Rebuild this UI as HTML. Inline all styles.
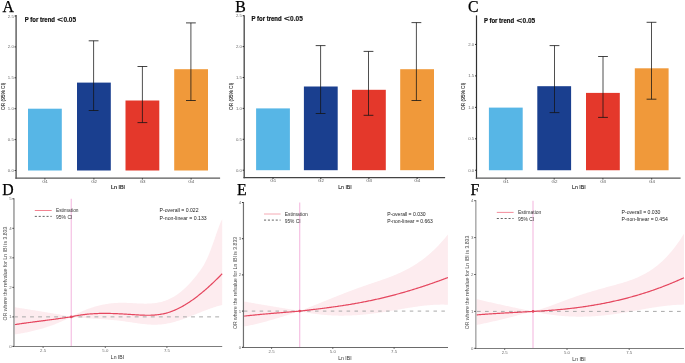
<!DOCTYPE html>
<html><head><meta charset="utf-8"><style>
html,body{margin:0;padding:0;background:#fff;overflow:hidden}
svg{display:block;will-change:transform}
</style></head><body>
<svg width="685" height="363" viewBox="0 0 685 363">
<rect width="685" height="363" fill="#fff"/>
<rect x="28" y="108.7" width="33.8" height="61.8" fill="#57B6E6"/>
<rect x="77" y="82.6" width="33.8" height="87.9" fill="#1A3F8F"/>
<rect x="125.5" y="100.5" width="33.8" height="70" fill="#E4382B"/>
<rect x="174.2" y="69.2" width="33.8" height="101.3" fill="#F0993A"/>
<line x1="93.6" y1="40.8" x2="93.6" y2="110.5" stroke="#141414" stroke-width="0.75" />
<line x1="88.7" y1="40.8" x2="98.5" y2="40.8" stroke="#141414" stroke-width="0.8" />
<line x1="88.7" y1="110.5" x2="98.5" y2="110.5" stroke="#141414" stroke-width="0.8" />
<line x1="142.4" y1="66.5" x2="142.4" y2="122.6" stroke="#141414" stroke-width="0.75" />
<line x1="137.5" y1="66.5" x2="147.3" y2="66.5" stroke="#141414" stroke-width="0.8" />
<line x1="137.5" y1="122.6" x2="147.3" y2="122.6" stroke="#141414" stroke-width="0.8" />
<line x1="190.9" y1="22.9" x2="190.9" y2="100.5" stroke="#141414" stroke-width="0.75" />
<line x1="186" y1="22.9" x2="195.8" y2="22.9" stroke="#141414" stroke-width="0.8" />
<line x1="186" y1="100.5" x2="195.8" y2="100.5" stroke="#141414" stroke-width="0.8" />
<line x1="16.1" y1="15" x2="16.1" y2="178.8" stroke="#585858" stroke-width="1.4" />
<line x1="15.4" y1="178.1" x2="220.1" y2="178.1" stroke="#585858" stroke-width="1.4" />
<line x1="14.6" y1="170.5" x2="15.9" y2="170.5" stroke="#1a1a1a" stroke-width="0.9" />
<text x="13.8" y="172.05" font-family="'Liberation Sans', sans-serif" font-size="4.3" fill="#6a6a6a" text-anchor="end" font-weight="normal" >0.0</text>
<line x1="14.6" y1="139.6" x2="15.9" y2="139.6" stroke="#1a1a1a" stroke-width="0.9" />
<text x="13.8" y="141.15" font-family="'Liberation Sans', sans-serif" font-size="4.3" fill="#6a6a6a" text-anchor="end" font-weight="normal" >0.5</text>
<line x1="14.6" y1="108.7" x2="15.9" y2="108.7" stroke="#1a1a1a" stroke-width="0.9" />
<text x="13.8" y="110.25" font-family="'Liberation Sans', sans-serif" font-size="4.3" fill="#6a6a6a" text-anchor="end" font-weight="normal" >1.0</text>
<line x1="14.6" y1="77.8" x2="15.9" y2="77.8" stroke="#1a1a1a" stroke-width="0.9" />
<text x="13.8" y="79.35" font-family="'Liberation Sans', sans-serif" font-size="4.3" fill="#6a6a6a" text-anchor="end" font-weight="normal" >1.5</text>
<line x1="14.6" y1="46.9" x2="15.9" y2="46.9" stroke="#1a1a1a" stroke-width="0.9" />
<text x="13.8" y="48.45" font-family="'Liberation Sans', sans-serif" font-size="4.3" fill="#6a6a6a" text-anchor="end" font-weight="normal" >2.0</text>
<line x1="14.6" y1="16" x2="15.9" y2="16" stroke="#1a1a1a" stroke-width="0.9" />
<text x="13.8" y="17.55" font-family="'Liberation Sans', sans-serif" font-size="4.3" fill="#6a6a6a" text-anchor="end" font-weight="normal" >2.5</text>
<line x1="44.9" y1="178.3" x2="44.9" y2="179.5" stroke="#1a1a1a" stroke-width="0.9" />
<text x="45.1" y="182.7" font-family="'Liberation Sans', sans-serif" font-size="4.4" fill="#5a5a5a" text-anchor="middle" font-weight="normal" >G1</text>
<line x1="93.9" y1="178.3" x2="93.9" y2="179.5" stroke="#1a1a1a" stroke-width="0.9" />
<text x="94.1" y="182.7" font-family="'Liberation Sans', sans-serif" font-size="4.4" fill="#5a5a5a" text-anchor="middle" font-weight="normal" >G2</text>
<line x1="142.4" y1="178.3" x2="142.4" y2="179.5" stroke="#1a1a1a" stroke-width="0.9" />
<text x="142.6" y="182.7" font-family="'Liberation Sans', sans-serif" font-size="4.4" fill="#5a5a5a" text-anchor="middle" font-weight="normal" >G3</text>
<line x1="191.1" y1="178.3" x2="191.1" y2="179.5" stroke="#1a1a1a" stroke-width="0.9" />
<text x="191.3" y="182.7" font-family="'Liberation Sans', sans-serif" font-size="4.4" fill="#5a5a5a" text-anchor="middle" font-weight="normal" >G4</text>
<text x="2.4" y="11.9" font-family="'Liberation Serif', serif" font-size="15.8" fill="#000" text-anchor="start" font-weight="normal" stroke="#000" stroke-width="0.25">A</text>
<text x="24.8" y="21.7" font-family="'Liberation Sans', sans-serif" font-size="6.5" fill="#111" stroke="#111" stroke-width="0.22" font-weight="bold" textLength="30.2" lengthAdjust="spacingAndGlyphs">P for trend</text>
<text x="57.3" y="21.7" font-family="'Liberation Sans', sans-serif" font-size="7.6" fill="#111" stroke="#111" stroke-width="0.3" textLength="5.8" lengthAdjust="spacingAndGlyphs">&lt;</text>
<text x="63.4" y="21.7" font-family="'Liberation Sans', sans-serif" font-size="6.5" fill="#111" stroke="#111" stroke-width="0.12" font-weight="bold" textLength="12.7" lengthAdjust="spacingAndGlyphs">0.05</text>
<text x="0" y="0" transform="translate(4.7,96.3) rotate(-90)" font-family="'Liberation Sans', sans-serif" font-size="5.2" fill="#2a2a2a" stroke="#2a2a2a" stroke-width="0.1" text-anchor="middle" textLength="27.2" lengthAdjust="spacingAndGlyphs">OR (95% CI)</text>
<text x="118" y="188.9" font-family="'Liberation Sans', sans-serif" font-size="5" fill="#222" text-anchor="middle" font-weight="bold" >Ln IBI</text>
<rect x="256.1" y="108.4" width="33.8" height="61.8" fill="#57B6E6"/>
<rect x="303.9" y="86.5" width="33.8" height="83.7" fill="#1A3F8F"/>
<rect x="352" y="89.8" width="33.8" height="80.4" fill="#E4382B"/>
<rect x="400.2" y="69.2" width="33.8" height="101" fill="#F0993A"/>
<line x1="320.6" y1="45.6" x2="320.6" y2="113.5" stroke="#141414" stroke-width="0.75" />
<line x1="315.7" y1="45.6" x2="325.5" y2="45.6" stroke="#141414" stroke-width="0.8" />
<line x1="315.7" y1="113.5" x2="325.5" y2="113.5" stroke="#141414" stroke-width="0.8" />
<line x1="368.5" y1="51.4" x2="368.5" y2="115.3" stroke="#141414" stroke-width="0.75" />
<line x1="363.6" y1="51.4" x2="373.4" y2="51.4" stroke="#141414" stroke-width="0.8" />
<line x1="363.6" y1="115.3" x2="373.4" y2="115.3" stroke="#141414" stroke-width="0.8" />
<line x1="416.4" y1="22.6" x2="416.4" y2="100.5" stroke="#141414" stroke-width="0.75" />
<line x1="411.5" y1="22.6" x2="421.3" y2="22.6" stroke="#141414" stroke-width="0.8" />
<line x1="411.5" y1="100.5" x2="421.3" y2="100.5" stroke="#141414" stroke-width="0.8" />
<line x1="244.2" y1="15.2" x2="244.2" y2="178.3" stroke="#505050" stroke-width="1.4" />
<line x1="243.5" y1="177.6" x2="445.1" y2="177.6" stroke="#444444" stroke-width="1.4" />
<line x1="242.7" y1="170.2" x2="244" y2="170.2" stroke="#1a1a1a" stroke-width="0.9" />
<text x="241.9" y="171.75" font-family="'Liberation Sans', sans-serif" font-size="4.3" fill="#6a6a6a" text-anchor="end" font-weight="normal" >0.0</text>
<line x1="242.7" y1="139.3" x2="244" y2="139.3" stroke="#1a1a1a" stroke-width="0.9" />
<text x="241.9" y="140.85" font-family="'Liberation Sans', sans-serif" font-size="4.3" fill="#6a6a6a" text-anchor="end" font-weight="normal" >0.5</text>
<line x1="242.7" y1="108.4" x2="244" y2="108.4" stroke="#1a1a1a" stroke-width="0.9" />
<text x="241.9" y="109.95" font-family="'Liberation Sans', sans-serif" font-size="4.3" fill="#6a6a6a" text-anchor="end" font-weight="normal" >1.0</text>
<line x1="242.7" y1="77.5" x2="244" y2="77.5" stroke="#1a1a1a" stroke-width="0.9" />
<text x="241.9" y="79.05" font-family="'Liberation Sans', sans-serif" font-size="4.3" fill="#6a6a6a" text-anchor="end" font-weight="normal" >1.5</text>
<line x1="242.7" y1="46.6" x2="244" y2="46.6" stroke="#1a1a1a" stroke-width="0.9" />
<text x="241.9" y="48.15" font-family="'Liberation Sans', sans-serif" font-size="4.3" fill="#6a6a6a" text-anchor="end" font-weight="normal" >2.0</text>
<line x1="242.7" y1="15.7" x2="244" y2="15.7" stroke="#1a1a1a" stroke-width="0.9" />
<text x="241.9" y="17.25" font-family="'Liberation Sans', sans-serif" font-size="4.3" fill="#6a6a6a" text-anchor="end" font-weight="normal" >2.5</text>
<line x1="273" y1="177.8" x2="273" y2="179" stroke="#1a1a1a" stroke-width="0.9" />
<text x="273.2" y="182.2" font-family="'Liberation Sans', sans-serif" font-size="4.4" fill="#5a5a5a" text-anchor="middle" font-weight="normal" >G1</text>
<line x1="320.8" y1="177.8" x2="320.8" y2="179" stroke="#1a1a1a" stroke-width="0.9" />
<text x="321" y="182.2" font-family="'Liberation Sans', sans-serif" font-size="4.4" fill="#5a5a5a" text-anchor="middle" font-weight="normal" >G2</text>
<line x1="368.9" y1="177.8" x2="368.9" y2="179" stroke="#1a1a1a" stroke-width="0.9" />
<text x="369.1" y="182.2" font-family="'Liberation Sans', sans-serif" font-size="4.4" fill="#5a5a5a" text-anchor="middle" font-weight="normal" >G3</text>
<line x1="417.1" y1="177.8" x2="417.1" y2="179" stroke="#1a1a1a" stroke-width="0.9" />
<text x="417.3" y="182.2" font-family="'Liberation Sans', sans-serif" font-size="4.4" fill="#5a5a5a" text-anchor="middle" font-weight="normal" >G4</text>
<text x="235.2" y="11.9" font-family="'Liberation Serif', serif" font-size="15.8" fill="#000" text-anchor="start" font-weight="normal" stroke="#000" stroke-width="0.25">B</text>
<text x="251.5" y="21" font-family="'Liberation Sans', sans-serif" font-size="6.5" fill="#111" stroke="#111" stroke-width="0.22" font-weight="bold" textLength="30.2" lengthAdjust="spacingAndGlyphs">P for trend</text>
<text x="284" y="21" font-family="'Liberation Sans', sans-serif" font-size="7.6" fill="#111" stroke="#111" stroke-width="0.3" textLength="5.8" lengthAdjust="spacingAndGlyphs">&lt;</text>
<text x="290.1" y="21" font-family="'Liberation Sans', sans-serif" font-size="6.5" fill="#111" stroke="#111" stroke-width="0.12" font-weight="bold" textLength="12.7" lengthAdjust="spacingAndGlyphs">0.05</text>
<text x="0" y="0" transform="translate(232.7,96.3) rotate(-90)" font-family="'Liberation Sans', sans-serif" font-size="5.2" fill="#2a2a2a" stroke="#2a2a2a" stroke-width="0.1" text-anchor="middle" textLength="27.2" lengthAdjust="spacingAndGlyphs">OR (95% CI)</text>
<text x="345" y="188.6" font-family="'Liberation Sans', sans-serif" font-size="5.2" fill="#222" text-anchor="middle" font-weight="normal" stroke="#222" stroke-width="0.1">Ln IBI</text>
<rect x="488.9" y="107.6" width="33.8" height="62.65" fill="#57B6E6"/>
<rect x="537.3" y="86.2" width="33.8" height="84.05" fill="#1A3F8F"/>
<rect x="586" y="92.9" width="33.8" height="77.35" fill="#E4382B"/>
<rect x="634.8" y="68.3" width="33.8" height="101.95" fill="#F0993A"/>
<line x1="554.5" y1="45.6" x2="554.5" y2="112.6" stroke="#141414" stroke-width="0.75" />
<line x1="549.6" y1="45.6" x2="559.4" y2="45.6" stroke="#141414" stroke-width="0.8" />
<line x1="549.6" y1="112.6" x2="559.4" y2="112.6" stroke="#141414" stroke-width="0.8" />
<line x1="603" y1="56.5" x2="603" y2="117.4" stroke="#141414" stroke-width="0.75" />
<line x1="598.1" y1="56.5" x2="607.9" y2="56.5" stroke="#141414" stroke-width="0.8" />
<line x1="598.1" y1="117.4" x2="607.9" y2="117.4" stroke="#141414" stroke-width="0.8" />
<line x1="651.5" y1="22.3" x2="651.5" y2="99.2" stroke="#141414" stroke-width="0.75" />
<line x1="646.6" y1="22.3" x2="656.4" y2="22.3" stroke="#141414" stroke-width="0.8" />
<line x1="646.6" y1="99.2" x2="656.4" y2="99.2" stroke="#141414" stroke-width="0.8" />
<line x1="476.5" y1="15.4" x2="476.5" y2="178.8" stroke="#303030" stroke-width="1.2" />
<line x1="475.8" y1="178.1" x2="680.6" y2="178.1" stroke="#585858" stroke-width="1.4" />
<line x1="475" y1="170.25" x2="476.3" y2="170.25" stroke="#1a1a1a" stroke-width="0.9" />
<text x="474.2" y="171.8" font-family="'Liberation Sans', sans-serif" font-size="4.3" fill="#6a6a6a" text-anchor="end" font-weight="normal" >0.0</text>
<line x1="475" y1="138.8" x2="476.3" y2="138.8" stroke="#1a1a1a" stroke-width="0.9" />
<text x="474.2" y="140.35" font-family="'Liberation Sans', sans-serif" font-size="4.3" fill="#6a6a6a" text-anchor="end" font-weight="normal" >0.5</text>
<line x1="475" y1="107.35" x2="476.3" y2="107.35" stroke="#1a1a1a" stroke-width="0.9" />
<text x="474.2" y="108.9" font-family="'Liberation Sans', sans-serif" font-size="4.3" fill="#6a6a6a" text-anchor="end" font-weight="normal" >1.0</text>
<line x1="475" y1="75.9" x2="476.3" y2="75.9" stroke="#1a1a1a" stroke-width="0.9" />
<text x="474.2" y="77.45" font-family="'Liberation Sans', sans-serif" font-size="4.3" fill="#6a6a6a" text-anchor="end" font-weight="normal" >1.5</text>
<line x1="475" y1="44.45" x2="476.3" y2="44.45" stroke="#1a1a1a" stroke-width="0.9" />
<text x="474.2" y="46" font-family="'Liberation Sans', sans-serif" font-size="4.3" fill="#6a6a6a" text-anchor="end" font-weight="normal" >2.0</text>
<line x1="505.8" y1="178.3" x2="505.8" y2="179.5" stroke="#1a1a1a" stroke-width="0.9" />
<text x="506" y="182.7" font-family="'Liberation Sans', sans-serif" font-size="4.4" fill="#5a5a5a" text-anchor="middle" font-weight="normal" >G1</text>
<line x1="554.2" y1="178.3" x2="554.2" y2="179.5" stroke="#1a1a1a" stroke-width="0.9" />
<text x="554.4" y="182.7" font-family="'Liberation Sans', sans-serif" font-size="4.4" fill="#5a5a5a" text-anchor="middle" font-weight="normal" >G2</text>
<line x1="602.9" y1="178.3" x2="602.9" y2="179.5" stroke="#1a1a1a" stroke-width="0.9" />
<text x="603.1" y="182.7" font-family="'Liberation Sans', sans-serif" font-size="4.4" fill="#5a5a5a" text-anchor="middle" font-weight="normal" >G3</text>
<line x1="651.7" y1="178.3" x2="651.7" y2="179.5" stroke="#1a1a1a" stroke-width="0.9" />
<text x="651.9" y="182.7" font-family="'Liberation Sans', sans-serif" font-size="4.4" fill="#5a5a5a" text-anchor="middle" font-weight="normal" >G4</text>
<text x="467.9" y="11.9" font-family="'Liberation Serif', serif" font-size="15.8" fill="#000" text-anchor="start" font-weight="normal" stroke="#000" stroke-width="0.25">C</text>
<text x="483.9" y="23" font-family="'Liberation Sans', sans-serif" font-size="6.5" fill="#111" stroke="#111" stroke-width="0.22" font-weight="bold" textLength="30.2" lengthAdjust="spacingAndGlyphs">P for trend</text>
<text x="516.4" y="23" font-family="'Liberation Sans', sans-serif" font-size="7.6" fill="#111" stroke="#111" stroke-width="0.3" textLength="5.8" lengthAdjust="spacingAndGlyphs">&lt;</text>
<text x="522.5" y="23" font-family="'Liberation Sans', sans-serif" font-size="6.5" fill="#111" stroke="#111" stroke-width="0.12" font-weight="bold" textLength="12.7" lengthAdjust="spacingAndGlyphs">0.05</text>
<text x="0" y="0" transform="translate(464.9,96.3) rotate(-90)" font-family="'Liberation Sans', sans-serif" font-size="5.2" fill="#2a2a2a" stroke="#2a2a2a" stroke-width="0.1" text-anchor="middle" textLength="27.2" lengthAdjust="spacingAndGlyphs">OR (95% CI)</text>
<text x="578.8" y="189" font-family="'Liberation Sans', sans-serif" font-size="5.2" fill="#222" text-anchor="middle" font-weight="normal" stroke="#222" stroke-width="0.1">Ln IBI</text>
<path d="M14.5,307.14 L15.5,307.31 L16.5,307.48 L17.5,307.64 L18.5,307.81 L19.5,307.97 L20.5,308.13 L21.5,308.3 L22.5,308.46 L23.5,308.62 L24.5,308.78 L25.5,308.94 L26.5,309.1 L27.5,309.26 L28.5,309.42 L29.5,309.58 L30.5,309.74 L31.5,309.89 L32.5,310.05 L33.5,310.21 L34.5,310.37 L35.5,310.53 L36.5,310.69 L37.5,310.85 L38.5,311.01 L39.5,311.17 L40.5,311.33 L41.5,311.49 L42.5,311.65 L43.5,311.81 L44.5,311.97 L45.5,312.14 L46.5,312.3 L47.5,312.47 L48.5,312.63 L49.5,312.8 L50.5,312.97 L51.5,313.14 L52.5,313.31 L53.5,313.48 L54.5,313.65 L55.5,313.83 L56.5,314 L57.5,314.18 L58.5,314.36 L59.5,314.54 L60.5,314.72 L61.5,314.91 L62.5,315.09 L63.5,315.28 L64.5,315.47 L65.5,315.66 L66.5,315.85 L67.5,316.05 L68.5,316.25 L69.5,316.45 L70.5,316.65 L71.25,316.8 L72.25,316.24 L73.25,315.69 L74.25,315.15 L75.25,314.62 L76.25,314.11 L77.25,313.61 L78.25,313.12 L79.25,312.64 L80.25,312.17 L81.25,311.72 L82.25,311.28 L83.25,310.84 L84.25,310.42 L85.25,310.02 L86.25,309.62 L87.25,309.23 L88.25,308.86 L89.25,308.5 L90.25,308.15 L91.25,307.81 L92.25,307.48 L93.25,307.16 L94.25,306.86 L95.25,306.57 L96.25,306.28 L97.25,306.01 L98.25,305.75 L99.25,305.5 L100.25,305.26 L101.25,305.04 L102.25,304.82 L103.25,304.62 L104.25,304.42 L105.25,304.24 L106.25,304.07 L107.25,303.91 L108.25,303.76 L109.25,303.62 L110.25,303.49 L111.25,303.37 L112.25,303.26 L113.25,303.16 L114.25,303.08 L115.25,303 L116.25,302.94 L117.25,302.88 L118.25,302.84 L119.25,302.8 L120.25,302.78 L121.25,302.77 L122.25,302.77 L123.25,302.77 L124.25,302.79 L125.25,302.81 L126.25,302.84 L127.25,302.88 L128.25,302.92 L129.25,302.96 L130.25,303.01 L131.25,303.06 L132.25,303.12 L133.25,303.17 L134.25,303.23 L135.25,303.28 L136.25,303.34 L137.25,303.39 L138.25,303.44 L139.25,303.49 L140.25,303.53 L141.25,303.56 L142.25,303.59 L143.25,303.61 L144.25,303.63 L145.25,303.64 L146.25,303.63 L147.25,303.62 L148.25,303.59 L149.25,303.56 L150.25,303.51 L151.25,303.45 L152.25,303.37 L153.25,303.28 L154.25,303.17 L155.25,303.04 L156.25,302.9 L157.25,302.74 L158.25,302.56 L159.25,302.36 L160.25,302.14 L161.25,301.9 L162.25,301.63 L163.25,301.34 L164.25,301.03 L165.25,300.69 L166.25,300.33 L167.25,299.94 L168.25,299.52 L169.25,299.08 L170.25,298.6 L171.25,298.1 L172.25,297.57 L173.25,297 L174.25,296.41 L175.25,295.79 L176.25,295.14 L177.25,294.46 L178.25,293.75 L179.25,293.01 L180.25,292.23 L181.25,291.43 L182.25,290.59 L183.25,289.73 L184.25,288.83 L185.25,287.9 L186.25,286.94 L187.25,285.95 L188.25,284.93 L189.25,283.88 L190.25,282.79 L191.25,281.68 L192.25,280.54 L193.25,279.37 L194.25,278.17 L195.25,276.94 L196.25,275.69 L197.25,274.41 L198.25,273.11 L199.25,271.78 L200.25,270.42 L201.25,269.01 L202.25,267.52 L203.25,265.93 L204.25,264.21 L205.25,262.35 L206.25,260.34 L207.25,258.19 L208.25,255.91 L209.25,253.5 L210.25,250.98 L211.25,248.35 L212.25,245.62 L213.25,242.81 L214.25,239.92 L215.25,236.99 L216.25,234.07 L217.25,231.2 L218.25,228.42 L219.25,225.79 L220.25,223.34 L221.25,221.12 L222.2,219.27 L222.2,304.96 L221.25,305.19 L220.25,305.45 L219.25,305.72 L218.25,306 L217.25,306.29 L216.25,306.59 L215.25,306.91 L214.25,307.23 L213.25,307.55 L212.25,307.89 L211.25,308.24 L210.25,308.59 L209.25,308.95 L208.25,309.31 L207.25,309.69 L206.25,310.06 L205.25,310.44 L204.25,310.83 L203.25,311.22 L202.25,311.61 L201.25,312.01 L200.25,312.4 L199.25,312.8 L198.25,313.2 L197.25,313.6 L196.25,314.01 L195.25,314.41 L194.25,314.81 L193.25,315.21 L192.25,315.61 L191.25,316 L190.25,316.4 L189.25,316.79 L188.25,317.17 L187.25,317.55 L186.25,317.93 L185.25,318.3 L184.25,318.67 L183.25,319.03 L182.25,319.39 L181.25,319.73 L180.25,320.07 L179.25,320.4 L178.25,320.73 L177.25,321.04 L176.25,321.34 L175.25,321.64 L174.25,321.92 L173.25,322.19 L172.25,322.45 L171.25,322.7 L170.25,322.94 L169.25,323.16 L168.25,323.37 L167.25,323.56 L166.25,323.74 L165.25,323.91 L164.25,324.06 L163.25,324.19 L162.25,324.31 L161.25,324.41 L160.25,324.5 L159.25,324.57 L158.25,324.62 L157.25,324.66 L156.25,324.69 L155.25,324.7 L154.25,324.7 L153.25,324.69 L152.25,324.67 L151.25,324.63 L150.25,324.58 L149.25,324.53 L148.25,324.46 L147.25,324.39 L146.25,324.3 L145.25,324.21 L144.25,324.11 L143.25,324.01 L142.25,323.89 L141.25,323.78 L140.25,323.65 L139.25,323.52 L138.25,323.39 L137.25,323.25 L136.25,323.11 L135.25,322.97 L134.25,322.82 L133.25,322.67 L132.25,322.52 L131.25,322.37 L130.25,322.22 L129.25,322.07 L128.25,321.92 L127.25,321.78 L126.25,321.63 L125.25,321.49 L124.25,321.34 L123.25,321.21 L122.25,321.07 L121.25,320.94 L120.25,320.82 L119.25,320.7 L118.25,320.59 L117.25,320.48 L116.25,320.37 L115.25,320.27 L114.25,320.17 L113.25,320.08 L112.25,319.98 L111.25,319.9 L110.25,319.81 L109.25,319.73 L108.25,319.65 L107.25,319.58 L106.25,319.5 L105.25,319.43 L104.25,319.36 L103.25,319.29 L102.25,319.22 L101.25,319.16 L100.25,319.09 L99.25,319.03 L98.25,318.97 L97.25,318.91 L96.25,318.84 L95.25,318.78 L94.25,318.72 L93.25,318.66 L92.25,318.59 L91.25,318.53 L90.25,318.47 L89.25,318.4 L88.25,318.33 L87.25,318.26 L86.25,318.19 L85.25,318.12 L84.25,318.05 L83.25,317.97 L82.25,317.89 L81.25,317.81 L80.25,317.73 L79.25,317.64 L78.25,317.55 L77.25,317.45 L76.25,317.35 L75.25,317.25 L74.25,317.15 L73.25,317.03 L72.25,316.92 L71.25,316.8 L70.5,317.19 L69.5,317.71 L68.5,318.21 L67.5,318.71 L66.5,319.2 L65.5,319.68 L64.5,320.15 L63.5,320.61 L62.5,321.06 L61.5,321.5 L60.5,321.94 L59.5,322.37 L58.5,322.79 L57.5,323.2 L56.5,323.6 L55.5,323.99 L54.5,324.38 L53.5,324.76 L52.5,325.13 L51.5,325.49 L50.5,325.85 L49.5,326.2 L48.5,326.54 L47.5,326.87 L46.5,327.2 L45.5,327.52 L44.5,327.83 L43.5,328.14 L42.5,328.44 L41.5,328.73 L40.5,329.02 L39.5,329.3 L38.5,329.57 L37.5,329.84 L36.5,330.1 L35.5,330.35 L34.5,330.6 L33.5,330.84 L32.5,331.08 L31.5,331.31 L30.5,331.53 L29.5,331.75 L28.5,331.97 L27.5,332.18 L26.5,332.38 L25.5,332.58 L24.5,332.77 L23.5,332.96 L22.5,333.15 L21.5,333.33 L20.5,333.5 L19.5,333.67 L18.5,333.84 L17.5,334 L16.5,334.15 L15.5,334.3 L14.5,334.45 Z" fill="#FDECEF"/>
<line x1="13.95" y1="316.88" x2="222.2" y2="316.88" stroke="#a9a9a9" stroke-width="1" stroke-dasharray="3.9 4.15" stroke-dashoffset="0.0"/>
<line x1="71.25" y1="198.8" x2="71.25" y2="346" stroke="#F5C0E3" stroke-width="1.2" />
<path d="M14.5,324.64 L15.5,324.48 L16.5,324.33 L17.5,324.18 L18.5,324.04 L19.5,323.89 L20.5,323.74 L21.5,323.6 L22.5,323.46 L23.5,323.32 L24.5,323.18 L25.5,323.04 L26.5,322.9 L27.5,322.77 L28.5,322.63 L29.5,322.5 L30.5,322.36 L31.5,322.23 L32.5,322.1 L33.5,321.96 L34.5,321.83 L35.5,321.7 L36.5,321.57 L37.5,321.44 L38.5,321.31 L39.5,321.18 L40.5,321.05 L41.5,320.92 L42.5,320.79 L43.5,320.66 L44.5,320.53 L45.5,320.4 L46.5,320.27 L47.5,320.14 L48.5,320.01 L49.5,319.88 L50.5,319.75 L51.5,319.62 L52.5,319.49 L53.5,319.35 L54.5,319.22 L55.5,319.08 L56.5,318.95 L57.5,318.81 L58.5,318.67 L59.5,318.53 L60.5,318.39 L61.5,318.25 L62.5,318.11 L63.5,317.97 L64.5,317.82 L65.5,317.67 L66.5,317.53 L67.5,317.38 L68.5,317.23 L69.5,317.07 L70.5,316.92 L71.25,316.8 L72.25,316.58 L73.25,316.36 L74.25,316.15 L75.25,315.95 L76.25,315.76 L77.25,315.58 L78.25,315.41 L79.25,315.24 L80.25,315.09 L81.25,314.94 L82.25,314.8 L83.25,314.67 L84.25,314.54 L85.25,314.42 L86.25,314.31 L87.25,314.21 L88.25,314.11 L89.25,314.02 L90.25,313.94 L91.25,313.86 L92.25,313.79 L93.25,313.73 L94.25,313.67 L95.25,313.62 L96.25,313.57 L97.25,313.53 L98.25,313.5 L99.25,313.47 L100.25,313.45 L101.25,313.43 L102.25,313.41 L103.25,313.4 L104.25,313.4 L105.25,313.4 L106.25,313.4 L107.25,313.41 L108.25,313.43 L109.25,313.44 L110.25,313.46 L111.25,313.49 L112.25,313.51 L113.25,313.54 L114.25,313.58 L115.25,313.62 L116.25,313.66 L117.25,313.7 L118.25,313.74 L119.25,313.79 L120.25,313.84 L121.25,313.89 L122.25,313.95 L123.25,314.01 L124.25,314.06 L125.25,314.12 L126.25,314.18 L127.25,314.25 L128.25,314.31 L129.25,314.38 L130.25,314.44 L131.25,314.51 L132.25,314.57 L133.25,314.64 L134.25,314.71 L135.25,314.77 L136.25,314.84 L137.25,314.9 L138.25,314.96 L139.25,315.01 L140.25,315.06 L141.25,315.11 L142.25,315.15 L143.25,315.19 L144.25,315.22 L145.25,315.24 L146.25,315.25 L147.25,315.26 L148.25,315.26 L149.25,315.25 L150.25,315.23 L151.25,315.19 L152.25,315.15 L153.25,315.1 L154.25,315.03 L155.25,314.95 L156.25,314.86 L157.25,314.76 L158.25,314.64 L159.25,314.5 L160.25,314.35 L161.25,314.18 L162.25,314 L163.25,313.8 L164.25,313.58 L165.25,313.34 L166.25,313.09 L167.25,312.81 L168.25,312.52 L169.25,312.2 L170.25,311.87 L171.25,311.51 L172.25,311.14 L173.25,310.75 L174.25,310.34 L175.25,309.92 L176.25,309.47 L177.25,309.01 L178.25,308.53 L179.25,308.03 L180.25,307.52 L181.25,306.99 L182.25,306.44 L183.25,305.88 L184.25,305.3 L185.25,304.7 L186.25,304.09 L187.25,303.47 L188.25,302.83 L189.25,302.17 L190.25,301.5 L191.25,300.82 L192.25,300.12 L193.25,299.4 L194.25,298.68 L195.25,297.94 L196.25,297.18 L197.25,296.42 L198.25,295.64 L199.25,294.84 L200.25,294.04 L201.25,293.22 L202.25,292.4 L203.25,291.56 L204.25,290.7 L205.25,289.84 L206.25,288.97 L207.25,288.08 L208.25,287.19 L209.25,286.28 L210.25,285.37 L211.25,284.44 L212.25,283.51 L213.25,282.56 L214.25,281.61 L215.25,280.65 L216.25,279.68 L217.25,278.7 L218.25,277.71 L219.25,276.71 L220.25,275.71 L221.25,274.7 L222.2,273.73" fill="none" stroke="#E5465E" stroke-width="1.2"/>
<circle cx="71.25" cy="316.88" r="1.3" fill="#E5465E"/>
<line x1="13.95" y1="198.3" x2="13.95" y2="347" stroke="#ababab" stroke-width="1.8" />
<line x1="13.15" y1="346.5" x2="222.2" y2="346.5" stroke="#7c7c7c" stroke-width="1.1" />
<line x1="12.45" y1="346.4" x2="13.75" y2="346.4" stroke="#1a1a1a" stroke-width="0.9" />
<text x="11.65" y="347.95" font-family="'Liberation Sans', sans-serif" font-size="4.3" fill="#6a6a6a" text-anchor="end" font-weight="normal" >0</text>
<line x1="12.45" y1="316.88" x2="13.75" y2="316.88" stroke="#1a1a1a" stroke-width="0.9" />
<text x="11.65" y="318.43" font-family="'Liberation Sans', sans-serif" font-size="4.3" fill="#6a6a6a" text-anchor="end" font-weight="normal" >1</text>
<line x1="12.45" y1="287.36" x2="13.75" y2="287.36" stroke="#1a1a1a" stroke-width="0.9" />
<text x="11.65" y="288.91" font-family="'Liberation Sans', sans-serif" font-size="4.3" fill="#6a6a6a" text-anchor="end" font-weight="normal" >2</text>
<line x1="12.45" y1="257.84" x2="13.75" y2="257.84" stroke="#1a1a1a" stroke-width="0.9" />
<text x="11.65" y="259.39" font-family="'Liberation Sans', sans-serif" font-size="4.3" fill="#6a6a6a" text-anchor="end" font-weight="normal" >3</text>
<line x1="12.45" y1="228.32" x2="13.75" y2="228.32" stroke="#1a1a1a" stroke-width="0.9" />
<text x="11.65" y="229.87" font-family="'Liberation Sans', sans-serif" font-size="4.3" fill="#6a6a6a" text-anchor="end" font-weight="normal" >4</text>
<line x1="12.45" y1="198.8" x2="13.75" y2="198.8" stroke="#1a1a1a" stroke-width="0.9" />
<text x="11.65" y="200.35" font-family="'Liberation Sans', sans-serif" font-size="4.3" fill="#6a6a6a" text-anchor="end" font-weight="normal" >5</text>
<line x1="43.1" y1="346.7" x2="43.1" y2="347.8" stroke="#333" stroke-width="0.9" />
<text x="43.1" y="352.4" font-family="'Liberation Sans', sans-serif" font-size="4.3" fill="#6a6a6a" text-anchor="middle" font-weight="normal" >2.5</text>
<line x1="105.3" y1="346.7" x2="105.3" y2="347.8" stroke="#333" stroke-width="0.9" />
<text x="105.3" y="352.4" font-family="'Liberation Sans', sans-serif" font-size="4.3" fill="#6a6a6a" text-anchor="middle" font-weight="normal" >5.0</text>
<line x1="166.9" y1="346.7" x2="166.9" y2="347.8" stroke="#333" stroke-width="0.9" />
<text x="166.9" y="352.4" font-family="'Liberation Sans', sans-serif" font-size="4.3" fill="#6a6a6a" text-anchor="middle" font-weight="normal" >7.5</text>
<line x1="34.8" y1="210.5" x2="51.7" y2="210.5" stroke="#F07585" stroke-width="0.9" />
<line x1="34.8" y1="216.4" x2="51.7" y2="216.4" stroke="#555" stroke-width="0.9" stroke-dasharray="2.1 1.8"/>
<text x="56" y="211.9" font-family="'Liberation Sans', sans-serif" font-size="5.1" fill="#333" text-anchor="start" font-weight="normal" textLength="22.5" lengthAdjust="spacingAndGlyphs">Estimation</text>
<text x="56" y="219.3" font-family="'Liberation Sans', sans-serif" font-size="5.1" fill="#333" text-anchor="start" font-weight="normal" textLength="16.4" lengthAdjust="spacingAndGlyphs">95% CI</text>
<text x="159.6" y="212" font-family="'Liberation Sans', sans-serif" font-size="5.15" fill="#222" text-anchor="start" font-weight="normal" textLength="38.9" lengthAdjust="spacingAndGlyphs">P-overall = 0.022</text>
<text x="159.6" y="219.5" font-family="'Liberation Sans', sans-serif" font-size="5.15" fill="#222" text-anchor="start" font-weight="normal" textLength="47.1" lengthAdjust="spacingAndGlyphs">P-non-linear = 0.133</text>
<text x="2.3" y="195.1" font-family="'Liberation Serif', serif" font-size="15.8" fill="#000" text-anchor="start" font-weight="normal" stroke="#000" stroke-width="0.25">D</text>
<text x="0" y="0" transform="translate(6.7,273.45) rotate(-90)" font-family="'Liberation Sans', sans-serif" font-size="6.1" fill="#4a4a4a" text-anchor="middle" textLength="93.9" lengthAdjust="spacingAndGlyphs">OR where the refvalue for Ln IBI is 3.833</text>
<text x="117.5" y="359" font-family="'Liberation Sans', sans-serif" font-size="5.5" fill="#2a2a2a" text-anchor="middle" font-weight="normal" textLength="13.3" lengthAdjust="spacingAndGlyphs">Ln IBI</text>
<path d="M244.2,301.45 L245.2,301.64 L246.2,301.83 L247.2,302.02 L248.2,302.21 L249.2,302.4 L250.2,302.58 L251.2,302.76 L252.2,302.94 L253.2,303.12 L254.2,303.3 L255.2,303.47 L256.2,303.65 L257.2,303.82 L258.2,303.99 L259.2,304.16 L260.2,304.33 L261.2,304.5 L262.2,304.67 L263.2,304.83 L264.2,305 L265.2,305.17 L266.2,305.33 L267.2,305.5 L268.2,305.66 L269.2,305.82 L270.2,305.99 L271.2,306.15 L272.2,306.31 L273.2,306.48 L274.2,306.64 L275.2,306.8 L276.2,306.97 L277.2,307.13 L278.2,307.29 L279.2,307.46 L280.2,307.63 L281.2,307.79 L282.2,307.96 L283.2,308.13 L284.2,308.3 L285.2,308.47 L286.2,308.64 L287.2,308.81 L288.2,308.98 L289.2,309.16 L290.2,309.33 L291.2,309.51 L292.2,309.69 L293.2,309.87 L294.2,310.06 L295.2,310.24 L296.2,310.43 L297.2,310.62 L298.2,310.81 L299.2,311 L299.7,311.1 L300.7,310.71 L301.7,310.31 L302.7,309.91 L303.7,309.51 L304.7,309.11 L305.7,308.71 L306.7,308.31 L307.7,307.91 L308.7,307.51 L309.7,307.11 L310.7,306.7 L311.7,306.3 L312.7,305.9 L313.7,305.49 L314.7,305.09 L315.7,304.69 L316.7,304.28 L317.7,303.88 L318.7,303.47 L319.7,303.07 L320.7,302.66 L321.7,302.26 L322.7,301.86 L323.7,301.45 L324.7,301.05 L325.7,300.65 L326.7,300.24 L327.7,299.84 L328.7,299.44 L329.7,299.04 L330.7,298.64 L331.7,298.24 L332.7,297.84 L333.7,297.44 L334.7,297.04 L335.7,296.64 L336.7,296.25 L337.7,295.85 L338.7,295.46 L339.7,295.07 L340.7,294.67 L341.7,294.28 L342.7,293.89 L343.7,293.51 L344.7,293.12 L345.7,292.73 L346.7,292.35 L347.7,291.97 L348.7,291.59 L349.7,291.21 L350.7,290.83 L351.7,290.45 L352.7,290.08 L353.7,289.7 L354.7,289.33 L355.7,288.96 L356.7,288.6 L357.7,288.23 L358.7,287.87 L359.7,287.51 L360.7,287.15 L361.7,286.79 L362.7,286.44 L363.7,286.09 L364.7,285.74 L365.7,285.39 L366.7,285.04 L367.7,284.7 L368.7,284.36 L369.7,284.02 L370.7,283.68 L371.7,283.35 L372.7,283.01 L373.7,282.67 L374.7,282.34 L375.7,282 L376.7,281.66 L377.7,281.32 L378.7,280.98 L379.7,280.64 L380.7,280.3 L381.7,279.95 L382.7,279.6 L383.7,279.25 L384.7,278.89 L385.7,278.53 L386.7,278.17 L387.7,277.8 L388.7,277.43 L389.7,277.05 L390.7,276.67 L391.7,276.28 L392.7,275.88 L393.7,275.48 L394.7,275.07 L395.7,274.65 L396.7,274.23 L397.7,273.8 L398.7,273.36 L399.7,272.91 L400.7,272.45 L401.7,271.98 L402.7,271.51 L403.7,271.02 L404.7,270.52 L405.7,270.02 L406.7,269.5 L407.7,268.97 L408.7,268.43 L409.7,267.88 L410.7,267.31 L411.7,266.73 L412.7,266.14 L413.7,265.54 L414.7,264.92 L415.7,264.29 L416.7,263.64 L417.7,262.98 L418.7,262.31 L419.7,261.62 L420.7,260.91 L421.7,260.19 L422.7,259.45 L423.7,258.7 L424.7,257.92 L425.7,257.13 L426.7,256.33 L427.7,255.5 L428.7,254.66 L429.7,253.79 L430.7,252.91 L431.7,252.01 L432.7,251.09 L433.7,250.15 L434.7,249.19 L435.7,248.21 L436.7,247.21 L437.7,246.18 L438.7,245.14 L439.7,244.07 L440.7,242.98 L441.7,241.87 L442.7,240.73 L443.7,239.57 L444.7,238.39 L445.7,237.18 L446.7,235.95 L447.7,234.69 L447.9,234.44 L447.9,304.76 L447.7,304.75 L446.7,304.71 L445.7,304.67 L444.7,304.64 L443.7,304.62 L442.7,304.61 L441.7,304.61 L440.7,304.62 L439.7,304.63 L438.7,304.65 L437.7,304.68 L436.7,304.71 L435.7,304.75 L434.7,304.8 L433.7,304.86 L432.7,304.92 L431.7,304.99 L430.7,305.06 L429.7,305.14 L428.7,305.23 L427.7,305.32 L426.7,305.41 L425.7,305.52 L424.7,305.62 L423.7,305.73 L422.7,305.85 L421.7,305.97 L420.7,306.09 L419.7,306.22 L418.7,306.36 L417.7,306.49 L416.7,306.63 L415.7,306.78 L414.7,306.92 L413.7,307.07 L412.7,307.22 L411.7,307.38 L410.7,307.54 L409.7,307.7 L408.7,307.86 L407.7,308.02 L406.7,308.19 L405.7,308.36 L404.7,308.53 L403.7,308.7 L402.7,308.87 L401.7,309.04 L400.7,309.21 L399.7,309.38 L398.7,309.56 L397.7,309.73 L396.7,309.9 L395.7,310.08 L394.7,310.25 L393.7,310.42 L392.7,310.6 L391.7,310.77 L390.7,310.94 L389.7,311.1 L388.7,311.27 L387.7,311.44 L386.7,311.6 L385.7,311.76 L384.7,311.92 L383.7,312.08 L382.7,312.23 L381.7,312.39 L380.7,312.53 L379.7,312.68 L378.7,312.82 L377.7,312.96 L376.7,313.1 L375.7,313.23 L374.7,313.37 L373.7,313.49 L372.7,313.62 L371.7,313.74 L370.7,313.86 L369.7,313.97 L368.7,314.08 L367.7,314.19 L366.7,314.29 L365.7,314.4 L364.7,314.49 L363.7,314.59 L362.7,314.68 L361.7,314.76 L360.7,314.84 L359.7,314.92 L358.7,315 L357.7,315.07 L356.7,315.14 L355.7,315.2 L354.7,315.26 L353.7,315.31 L352.7,315.36 L351.7,315.41 L350.7,315.45 L349.7,315.49 L348.7,315.53 L347.7,315.56 L346.7,315.58 L345.7,315.6 L344.7,315.62 L343.7,315.63 L342.7,315.64 L341.7,315.64 L340.7,315.64 L339.7,315.64 L338.7,315.63 L337.7,315.61 L336.7,315.59 L335.7,315.56 L334.7,315.53 L333.7,315.5 L332.7,315.46 L331.7,315.42 L330.7,315.37 L329.7,315.31 L328.7,315.25 L327.7,315.19 L326.7,315.12 L325.7,315.04 L324.7,314.96 L323.7,314.87 L322.7,314.78 L321.7,314.69 L320.7,314.58 L319.7,314.48 L318.7,314.36 L317.7,314.24 L316.7,314.12 L315.7,313.99 L314.7,313.85 L313.7,313.71 L312.7,313.56 L311.7,313.41 L310.7,313.25 L309.7,313.09 L308.7,312.91 L307.7,312.74 L306.7,312.55 L305.7,312.37 L304.7,312.17 L303.7,311.97 L302.7,311.76 L301.7,311.55 L300.7,311.33 L299.7,311.1 L299.2,311.26 L298.2,311.59 L297.2,311.91 L296.2,312.23 L295.2,312.56 L294.2,312.88 L293.2,313.2 L292.2,313.53 L291.2,313.85 L290.2,314.17 L289.2,314.49 L288.2,314.81 L287.2,315.13 L286.2,315.45 L285.2,315.76 L284.2,316.08 L283.2,316.39 L282.2,316.7 L281.2,317.02 L280.2,317.32 L279.2,317.63 L278.2,317.94 L277.2,318.24 L276.2,318.54 L275.2,318.84 L274.2,319.14 L273.2,319.43 L272.2,319.72 L271.2,320.01 L270.2,320.3 L269.2,320.58 L268.2,320.86 L267.2,321.14 L266.2,321.42 L265.2,321.69 L264.2,321.96 L263.2,322.22 L262.2,322.48 L261.2,322.74 L260.2,322.99 L259.2,323.24 L258.2,323.49 L257.2,323.73 L256.2,323.97 L255.2,324.2 L254.2,324.43 L253.2,324.66 L252.2,324.88 L251.2,325.09 L250.2,325.31 L249.2,325.51 L248.2,325.71 L247.2,325.91 L246.2,326.1 L245.2,326.29 L244.2,326.47 Z" fill="#FDECEF"/>
<line x1="243.45" y1="311.1" x2="448" y2="311.1" stroke="#a9a9a9" stroke-width="1" stroke-dasharray="3.5 4.4" stroke-dashoffset="7.45"/>
<line x1="299.7" y1="202.5" x2="299.7" y2="346.95" stroke="#F5C0E3" stroke-width="1.2" />
<path d="M244.2,316.09 L245.2,315.98 L246.2,315.87 L247.2,315.76 L248.2,315.65 L249.2,315.54 L250.2,315.43 L251.2,315.33 L252.2,315.23 L253.2,315.13 L254.2,315.03 L255.2,314.93 L256.2,314.83 L257.2,314.73 L258.2,314.64 L259.2,314.54 L260.2,314.45 L261.2,314.36 L262.2,314.26 L263.2,314.17 L264.2,314.08 L265.2,313.99 L266.2,313.91 L267.2,313.82 L268.2,313.73 L269.2,313.65 L270.2,313.56 L271.2,313.47 L272.2,313.39 L273.2,313.31 L274.2,313.22 L275.2,313.14 L276.2,313.06 L277.2,312.97 L278.2,312.89 L279.2,312.81 L280.2,312.73 L281.2,312.64 L282.2,312.56 L283.2,312.48 L284.2,312.4 L285.2,312.32 L286.2,312.23 L287.2,312.15 L288.2,312.07 L289.2,311.99 L290.2,311.91 L291.2,311.82 L292.2,311.74 L293.2,311.66 L294.2,311.57 L295.2,311.49 L296.2,311.4 L297.2,311.32 L298.2,311.23 L299.2,311.14 L299.7,311.1 L300.7,310.99 L301.7,310.87 L302.7,310.76 L303.7,310.64 L304.7,310.53 L305.7,310.41 L306.7,310.3 L307.7,310.18 L308.7,310.06 L309.7,309.95 L310.7,309.83 L311.7,309.71 L312.7,309.59 L313.7,309.47 L314.7,309.35 L315.7,309.23 L316.7,309.11 L317.7,308.99 L318.7,308.86 L319.7,308.74 L320.7,308.61 L321.7,308.49 L322.7,308.36 L323.7,308.23 L324.7,308.11 L325.7,307.98 L326.7,307.84 L327.7,307.71 L328.7,307.58 L329.7,307.44 L330.7,307.31 L331.7,307.17 L332.7,307.03 L333.7,306.9 L334.7,306.75 L335.7,306.61 L336.7,306.47 L337.7,306.32 L338.7,306.18 L339.7,306.03 L340.7,305.88 L341.7,305.73 L342.7,305.58 L343.7,305.42 L344.7,305.27 L345.7,305.11 L346.7,304.95 L347.7,304.79 L348.7,304.63 L349.7,304.47 L350.7,304.3 L351.7,304.13 L352.7,303.96 L353.7,303.79 L354.7,303.62 L355.7,303.44 L356.7,303.26 L357.7,303.08 L358.7,302.9 L359.7,302.72 L360.7,302.53 L361.7,302.34 L362.7,302.15 L363.7,301.96 L364.7,301.76 L365.7,301.57 L366.7,301.37 L367.7,301.16 L368.7,300.96 L369.7,300.75 L370.7,300.54 L371.7,300.33 L372.7,300.12 L373.7,299.9 L374.7,299.68 L375.7,299.46 L376.7,299.24 L377.7,299.01 L378.7,298.79 L379.7,298.56 L380.7,298.32 L381.7,298.09 L382.7,297.85 L383.7,297.61 L384.7,297.37 L385.7,297.13 L386.7,296.88 L387.7,296.63 L388.7,296.38 L389.7,296.13 L390.7,295.87 L391.7,295.61 L392.7,295.35 L393.7,295.09 L394.7,294.83 L395.7,294.56 L396.7,294.29 L397.7,294.02 L398.7,293.74 L399.7,293.47 L400.7,293.19 L401.7,292.91 L402.7,292.63 L403.7,292.34 L404.7,292.05 L405.7,291.76 L406.7,291.47 L407.7,291.18 L408.7,290.88 L409.7,290.58 L410.7,290.28 L411.7,289.98 L412.7,289.67 L413.7,289.36 L414.7,289.05 L415.7,288.74 L416.7,288.43 L417.7,288.11 L418.7,287.79 L419.7,287.47 L420.7,287.15 L421.7,286.82 L422.7,286.49 L423.7,286.17 L424.7,285.83 L425.7,285.5 L426.7,285.16 L427.7,284.82 L428.7,284.48 L429.7,284.14 L430.7,283.79 L431.7,283.45 L432.7,283.1 L433.7,282.74 L434.7,282.39 L435.7,282.03 L436.7,281.68 L437.7,281.32 L438.7,280.95 L439.7,280.59 L440.7,280.22 L441.7,279.85 L442.7,279.48 L443.7,279.11 L444.7,278.73 L445.7,278.35 L446.7,277.97 L447.7,277.59 L447.9,277.51" fill="none" stroke="#E5465E" stroke-width="1.2"/>
<circle cx="299.7" cy="311.1" r="1.3" fill="#E5465E"/>
<line x1="243.45" y1="202" x2="243.45" y2="347.95" stroke="#707070" stroke-width="1.2" />
<line x1="242.65" y1="347.45" x2="448" y2="347.45" stroke="#6a6a6a" stroke-width="1.1" />
<line x1="241.95" y1="347.3" x2="243.25" y2="347.3" stroke="#1a1a1a" stroke-width="0.9" />
<text x="241.15" y="348.85" font-family="'Liberation Sans', sans-serif" font-size="4.3" fill="#6a6a6a" text-anchor="end" font-weight="normal" >0</text>
<line x1="241.95" y1="311.1" x2="243.25" y2="311.1" stroke="#1a1a1a" stroke-width="0.9" />
<text x="241.15" y="312.65" font-family="'Liberation Sans', sans-serif" font-size="4.3" fill="#6a6a6a" text-anchor="end" font-weight="normal" >1</text>
<line x1="241.95" y1="274.9" x2="243.25" y2="274.9" stroke="#1a1a1a" stroke-width="0.9" />
<text x="241.15" y="276.45" font-family="'Liberation Sans', sans-serif" font-size="4.3" fill="#6a6a6a" text-anchor="end" font-weight="normal" >2</text>
<line x1="241.95" y1="238.7" x2="243.25" y2="238.7" stroke="#1a1a1a" stroke-width="0.9" />
<text x="241.15" y="240.25" font-family="'Liberation Sans', sans-serif" font-size="4.3" fill="#6a6a6a" text-anchor="end" font-weight="normal" >3</text>
<line x1="241.95" y1="202.5" x2="243.25" y2="202.5" stroke="#1a1a1a" stroke-width="0.9" />
<text x="241.15" y="204.05" font-family="'Liberation Sans', sans-serif" font-size="4.3" fill="#6a6a6a" text-anchor="end" font-weight="normal" >4</text>
<line x1="271.6" y1="347.65" x2="271.6" y2="348.75" stroke="#333" stroke-width="0.9" />
<text x="271.6" y="353.35" font-family="'Liberation Sans', sans-serif" font-size="4.3" fill="#6a6a6a" text-anchor="middle" font-weight="normal" >2.5</text>
<line x1="332.8" y1="347.65" x2="332.8" y2="348.75" stroke="#333" stroke-width="0.9" />
<text x="332.8" y="353.35" font-family="'Liberation Sans', sans-serif" font-size="4.3" fill="#6a6a6a" text-anchor="middle" font-weight="normal" >5.0</text>
<line x1="394.1" y1="347.65" x2="394.1" y2="348.75" stroke="#333" stroke-width="0.9" />
<text x="394.1" y="353.35" font-family="'Liberation Sans', sans-serif" font-size="4.3" fill="#6a6a6a" text-anchor="middle" font-weight="normal" >7.5</text>
<line x1="264" y1="214" x2="280.6" y2="214" stroke="#F4A0AC" stroke-width="0.9" />
<line x1="264" y1="220.1" x2="280.6" y2="220.1" stroke="#555" stroke-width="0.9" stroke-dasharray="2.1 1.8"/>
<text x="284.7" y="215.6" font-family="'Liberation Sans', sans-serif" font-size="5.1" fill="#333" text-anchor="start" font-weight="normal" textLength="23.2" lengthAdjust="spacingAndGlyphs">Estimation</text>
<text x="284.7" y="222.6" font-family="'Liberation Sans', sans-serif" font-size="5.1" fill="#333" text-anchor="start" font-weight="normal" textLength="15.9" lengthAdjust="spacingAndGlyphs">95% CI</text>
<text x="387.2" y="215.5" font-family="'Liberation Sans', sans-serif" font-size="5.15" fill="#222" text-anchor="start" font-weight="normal" textLength="38.5" lengthAdjust="spacingAndGlyphs">P-overall = 0.030</text>
<text x="387.2" y="222.8" font-family="'Liberation Sans', sans-serif" font-size="5.15" fill="#222" text-anchor="start" font-weight="normal" textLength="45.6" lengthAdjust="spacingAndGlyphs">P-non-linear = 0.663</text>
<text x="237.1" y="195.1" font-family="'Liberation Serif', serif" font-size="15.8" fill="#000" text-anchor="start" font-weight="normal" stroke="#000" stroke-width="0.25">E</text>
<text x="0" y="0" transform="translate(236.5,283) rotate(-90)" font-family="'Liberation Sans', sans-serif" font-size="6.1" fill="#4a4a4a" text-anchor="middle" textLength="92.1" lengthAdjust="spacingAndGlyphs">OR where the refvalue for Ln IBI is 3.833</text>
<text x="344.9" y="359.9" font-family="'Liberation Sans', sans-serif" font-size="5.5" fill="#2a2a2a" text-anchor="middle" font-weight="normal" textLength="13.3" lengthAdjust="spacingAndGlyphs">Ln IBI</text>
<path d="M476.5,299.14 L477.5,299.37 L478.5,299.61 L479.5,299.84 L480.5,300.07 L481.5,300.3 L482.5,300.53 L483.5,300.76 L484.5,300.99 L485.5,301.22 L486.5,301.45 L487.5,301.67 L488.5,301.9 L489.5,302.13 L490.5,302.35 L491.5,302.58 L492.5,302.8 L493.5,303.02 L494.5,303.25 L495.5,303.47 L496.5,303.69 L497.5,303.91 L498.5,304.14 L499.5,304.36 L500.5,304.58 L501.5,304.79 L502.5,305.01 L503.5,305.23 L504.5,305.45 L505.5,305.66 L506.5,305.88 L507.5,306.1 L508.5,306.31 L509.5,306.53 L510.5,306.74 L511.5,306.95 L512.5,307.17 L513.5,307.38 L514.5,307.59 L515.5,307.8 L516.5,308.01 L517.5,308.22 L518.5,308.43 L519.5,308.64 L520.5,308.85 L521.5,309.05 L522.5,309.26 L523.5,309.47 L524.5,309.67 L525.5,309.88 L526.5,310.08 L527.5,310.29 L528.5,310.49 L529.5,310.69 L530.5,310.9 L531.5,311.1 L532.5,311.3 L533,311.4 L534,311.14 L535,310.86 L536,310.58 L537,310.3 L538,310 L539,309.7 L540,309.4 L541,309.08 L542,308.77 L543,308.44 L544,308.11 L545,307.78 L546,307.44 L547,307.1 L548,306.75 L549,306.4 L550,306.04 L551,305.68 L552,305.32 L553,304.96 L554,304.59 L555,304.22 L556,303.85 L557,303.48 L558,303.1 L559,302.73 L560,302.35 L561,301.98 L562,301.6 L563,301.22 L564,300.85 L565,300.47 L566,300.1 L567,299.72 L568,299.35 L569,298.98 L570,298.61 L571,298.25 L572,297.88 L573,297.52 L574,297.16 L575,296.81 L576,296.46 L577,296.11 L578,295.77 L579,295.43 L580,295.09 L581,294.76 L582,294.43 L583,294.11 L584,293.79 L585,293.47 L586,293.16 L587,292.85 L588,292.54 L589,292.24 L590,291.93 L591,291.63 L592,291.34 L593,291.04 L594,290.75 L595,290.46 L596,290.17 L597,289.89 L598,289.6 L599,289.32 L600,289.04 L601,288.76 L602,288.48 L603,288.2 L604,287.92 L605,287.65 L606,287.37 L607,287.1 L608,286.83 L609,286.55 L610,286.28 L611,286.01 L612,285.74 L613,285.46 L614,285.19 L615,284.92 L616,284.64 L617,284.37 L618,284.09 L619,283.81 L620,283.52 L621,283.23 L622,282.94 L623,282.64 L624,282.34 L625,282.03 L626,281.71 L627,281.39 L628,281.06 L629,280.72 L630,280.37 L631,280.01 L632,279.65 L633,279.27 L634,278.88 L635,278.48 L636,278.07 L637,277.64 L638,277.21 L639,276.76 L640,276.29 L641,275.81 L642,275.32 L643,274.81 L644,274.28 L645,273.73 L646,273.17 L647,272.59 L648,272 L649,271.38 L650,270.74 L651,270.09 L652,269.41 L653,268.71 L654,267.99 L655,267.25 L656,266.49 L657,265.7 L658,264.89 L659,264.05 L660,263.19 L661,262.3 L662,261.39 L663,260.45 L664,259.49 L665,258.49 L666,257.47 L667,256.42 L668,255.34 L669,254.23 L670,253.09 L671,251.92 L672,250.72 L673,249.49 L674,248.22 L675,246.92 L676,245.59 L677,244.22 L678,242.82 L679,241.39 L680,239.91 L681,238.4 L682,236.86 L683,235.28 L684,233.66 L684,304.61 L683,304.62 L682,304.64 L681,304.67 L680,304.71 L679,304.75 L678,304.8 L677,304.85 L676,304.91 L675,304.98 L674,305.05 L673,305.12 L672,305.21 L671,305.3 L670,305.39 L669,305.49 L668,305.59 L667,305.7 L666,305.81 L665,305.93 L664,306.05 L663,306.18 L662,306.31 L661,306.44 L660,306.58 L659,306.72 L658,306.86 L657,307.01 L656,307.16 L655,307.31 L654,307.47 L653,307.62 L652,307.78 L651,307.95 L650,308.11 L649,308.28 L648,308.45 L647,308.62 L646,308.79 L645,308.97 L644,309.14 L643,309.32 L642,309.49 L641,309.67 L640,309.85 L639,310.03 L638,310.21 L637,310.39 L636,310.57 L635,310.75 L634,310.92 L633,311.1 L632,311.28 L631,311.46 L630,311.63 L629,311.81 L628,311.98 L627,312.16 L626,312.33 L625,312.5 L624,312.66 L623,312.83 L622,312.99 L621,313.15 L620,313.31 L619,313.47 L618,313.62 L617,313.77 L616,313.92 L615,314.06 L614,314.21 L613,314.34 L612,314.48 L611,314.61 L610,314.73 L609,314.86 L608,314.97 L607,315.09 L606,315.2 L605,315.31 L604,315.41 L603,315.51 L602,315.61 L601,315.7 L600,315.78 L599,315.87 L598,315.95 L597,316.02 L596,316.09 L595,316.16 L594,316.22 L593,316.28 L592,316.34 L591,316.39 L590,316.43 L589,316.48 L588,316.51 L587,316.55 L586,316.58 L585,316.6 L584,316.62 L583,316.64 L582,316.65 L581,316.66 L580,316.66 L579,316.66 L578,316.65 L577,316.64 L576,316.63 L575,316.61 L574,316.58 L573,316.56 L572,316.52 L571,316.49 L570,316.44 L569,316.4 L568,316.34 L567,316.29 L566,316.23 L565,316.16 L564,316.09 L563,316.01 L562,315.93 L561,315.85 L560,315.76 L559,315.66 L558,315.56 L557,315.46 L556,315.35 L555,315.23 L554,315.11 L553,314.99 L552,314.86 L551,314.72 L550,314.58 L549,314.44 L548,314.29 L547,314.13 L546,313.97 L545,313.8 L544,313.63 L543,313.46 L542,313.28 L541,313.09 L540,312.9 L539,312.7 L538,312.5 L537,312.29 L536,312.07 L535,311.85 L534,311.63 L533,311.4 L532.5,311.53 L531.5,311.78 L530.5,312.03 L529.5,312.28 L528.5,312.54 L527.5,312.79 L526.5,313.05 L525.5,313.31 L524.5,313.56 L523.5,313.82 L522.5,314.08 L521.5,314.34 L520.5,314.6 L519.5,314.86 L518.5,315.12 L517.5,315.37 L516.5,315.63 L515.5,315.89 L514.5,316.15 L513.5,316.41 L512.5,316.67 L511.5,316.92 L510.5,317.18 L509.5,317.44 L508.5,317.69 L507.5,317.94 L506.5,318.2 L505.5,318.45 L504.5,318.7 L503.5,318.95 L502.5,319.2 L501.5,319.45 L500.5,319.69 L499.5,319.94 L498.5,320.18 L497.5,320.42 L496.5,320.66 L495.5,320.9 L494.5,321.13 L493.5,321.37 L492.5,321.6 L491.5,321.83 L490.5,322.05 L489.5,322.28 L488.5,322.5 L487.5,322.72 L486.5,322.94 L485.5,323.15 L484.5,323.36 L483.5,323.57 L482.5,323.78 L481.5,323.98 L480.5,324.18 L479.5,324.38 L478.5,324.57 L477.5,324.76 L476.5,324.94 Z" fill="#FDECEF"/>
<line x1="475.8" y1="311.4" x2="684" y2="311.4" stroke="#a9a9a9" stroke-width="1" stroke-dasharray="3.7 4.3" stroke-dashoffset="6.8"/>
<line x1="533" y1="200.7" x2="533" y2="348" stroke="#F5C0E3" stroke-width="1.2" />
<path d="M476.5,314.93 L477.5,314.84 L478.5,314.76 L479.5,314.68 L480.5,314.6 L481.5,314.52 L482.5,314.44 L483.5,314.36 L484.5,314.29 L485.5,314.21 L486.5,314.14 L487.5,314.07 L488.5,314 L489.5,313.93 L490.5,313.86 L491.5,313.8 L492.5,313.73 L493.5,313.67 L494.5,313.6 L495.5,313.54 L496.5,313.48 L497.5,313.42 L498.5,313.36 L499.5,313.3 L500.5,313.24 L501.5,313.18 L502.5,313.12 L503.5,313.07 L504.5,313.01 L505.5,312.95 L506.5,312.9 L507.5,312.84 L508.5,312.79 L509.5,312.73 L510.5,312.68 L511.5,312.62 L512.5,312.57 L513.5,312.51 L514.5,312.46 L515.5,312.4 L516.5,312.35 L517.5,312.29 L518.5,312.24 L519.5,312.18 L520.5,312.13 L521.5,312.07 L522.5,312.02 L523.5,311.96 L524.5,311.91 L525.5,311.85 L526.5,311.79 L527.5,311.73 L528.5,311.67 L529.5,311.61 L530.5,311.55 L531.5,311.49 L532.5,311.43 L533,311.4 L534,311.35 L535,311.3 L536,311.25 L537,311.2 L538,311.15 L539,311.09 L540,311.03 L541,310.98 L542,310.92 L543,310.85 L544,310.79 L545,310.72 L546,310.66 L547,310.59 L548,310.52 L549,310.45 L550,310.37 L551,310.3 L552,310.22 L553,310.14 L554,310.06 L555,309.98 L556,309.89 L557,309.8 L558,309.72 L559,309.63 L560,309.53 L561,309.44 L562,309.34 L563,309.24 L564,309.14 L565,309.04 L566,308.94 L567,308.83 L568,308.72 L569,308.61 L570,308.5 L571,308.38 L572,308.27 L573,308.15 L574,308.03 L575,307.9 L576,307.78 L577,307.65 L578,307.52 L579,307.39 L580,307.25 L581,307.12 L582,306.98 L583,306.83 L584,306.69 L585,306.55 L586,306.4 L587,306.25 L588,306.09 L589,305.94 L590,305.78 L591,305.62 L592,305.45 L593,305.29 L594,305.12 L595,304.95 L596,304.78 L597,304.6 L598,304.42 L599,304.24 L600,304.06 L601,303.87 L602,303.69 L603,303.49 L604,303.3 L605,303.1 L606,302.9 L607,302.7 L608,302.5 L609,302.29 L610,302.08 L611,301.87 L612,301.65 L613,301.43 L614,301.21 L615,300.99 L616,300.76 L617,300.53 L618,300.3 L619,300.06 L620,299.82 L621,299.58 L622,299.34 L623,299.09 L624,298.84 L625,298.59 L626,298.33 L627,298.07 L628,297.81 L629,297.54 L630,297.27 L631,297 L632,296.73 L633,296.45 L634,296.17 L635,295.88 L636,295.59 L637,295.3 L638,295.01 L639,294.71 L640,294.41 L641,294.11 L642,293.8 L643,293.49 L644,293.18 L645,292.86 L646,292.54 L647,292.22 L648,291.89 L649,291.56 L650,291.22 L651,290.89 L652,290.55 L653,290.2 L654,289.85 L655,289.5 L656,289.15 L657,288.79 L658,288.43 L659,288.06 L660,287.69 L661,287.32 L662,286.94 L663,286.56 L664,286.18 L665,285.79 L666,285.4 L667,285.01 L668,284.61 L669,284.21 L670,283.8 L671,283.39 L672,282.98 L673,282.56 L674,282.14 L675,281.71 L676,281.29 L677,280.85 L678,280.42 L679,279.98 L680,279.53 L681,279.08 L682,278.63 L683,278.18 L684,277.72" fill="none" stroke="#E5465E" stroke-width="1.2"/>
<circle cx="533" cy="311.4" r="1.3" fill="#E5465E"/>
<line x1="475.8" y1="200.2" x2="475.8" y2="349" stroke="#b0b0b0" stroke-width="1.6" />
<line x1="475" y1="348.5" x2="684" y2="348.5" stroke="#7c7c7c" stroke-width="1.1" />
<line x1="474.3" y1="348.3" x2="475.6" y2="348.3" stroke="#1a1a1a" stroke-width="0.9" />
<text x="473.5" y="349.85" font-family="'Liberation Sans', sans-serif" font-size="4.3" fill="#6a6a6a" text-anchor="end" font-weight="normal" >0</text>
<line x1="474.3" y1="311.4" x2="475.6" y2="311.4" stroke="#1a1a1a" stroke-width="0.9" />
<text x="473.5" y="312.95" font-family="'Liberation Sans', sans-serif" font-size="4.3" fill="#6a6a6a" text-anchor="end" font-weight="normal" >1</text>
<line x1="474.3" y1="274.5" x2="475.6" y2="274.5" stroke="#1a1a1a" stroke-width="0.9" />
<text x="473.5" y="276.05" font-family="'Liberation Sans', sans-serif" font-size="4.3" fill="#6a6a6a" text-anchor="end" font-weight="normal" >2</text>
<line x1="474.3" y1="237.6" x2="475.6" y2="237.6" stroke="#1a1a1a" stroke-width="0.9" />
<text x="473.5" y="239.15" font-family="'Liberation Sans', sans-serif" font-size="4.3" fill="#6a6a6a" text-anchor="end" font-weight="normal" >3</text>
<line x1="474.3" y1="200.7" x2="475.6" y2="200.7" stroke="#1a1a1a" stroke-width="0.9" />
<text x="473.5" y="202.25" font-family="'Liberation Sans', sans-serif" font-size="4.3" fill="#6a6a6a" text-anchor="end" font-weight="normal" >4</text>
<line x1="504.7" y1="348.7" x2="504.7" y2="349.8" stroke="#333" stroke-width="0.9" />
<text x="504.7" y="354.4" font-family="'Liberation Sans', sans-serif" font-size="4.3" fill="#6a6a6a" text-anchor="middle" font-weight="normal" >2.5</text>
<line x1="567" y1="348.7" x2="567" y2="349.8" stroke="#333" stroke-width="0.9" />
<text x="567" y="354.4" font-family="'Liberation Sans', sans-serif" font-size="4.3" fill="#6a6a6a" text-anchor="middle" font-weight="normal" >5.0</text>
<line x1="629.2" y1="348.7" x2="629.2" y2="349.8" stroke="#333" stroke-width="0.9" />
<text x="629.2" y="354.4" font-family="'Liberation Sans', sans-serif" font-size="4.3" fill="#6a6a6a" text-anchor="middle" font-weight="normal" >7.5</text>
<line x1="496.8" y1="212.4" x2="513.6" y2="212.4" stroke="#F08090" stroke-width="0.9" />
<line x1="496.8" y1="218.5" x2="513.6" y2="218.5" stroke="#555" stroke-width="0.9" stroke-dasharray="2.1 1.8"/>
<text x="517.9" y="214" font-family="'Liberation Sans', sans-serif" font-size="5.1" fill="#333" text-anchor="start" font-weight="normal" textLength="23.5" lengthAdjust="spacingAndGlyphs">Estimation</text>
<text x="517.9" y="221.4" font-family="'Liberation Sans', sans-serif" font-size="5.1" fill="#333" text-anchor="start" font-weight="normal" textLength="16.3" lengthAdjust="spacingAndGlyphs">95% CI</text>
<text x="621.5" y="213.8" font-family="'Liberation Sans', sans-serif" font-size="5.15" fill="#222" text-anchor="start" font-weight="normal" textLength="38.9" lengthAdjust="spacingAndGlyphs">P-overall = 0.030</text>
<text x="621.5" y="221.3" font-family="'Liberation Sans', sans-serif" font-size="5.15" fill="#222" text-anchor="start" font-weight="normal" textLength="46.3" lengthAdjust="spacingAndGlyphs">P-non-linear = 0.454</text>
<text x="470.4" y="195.1" font-family="'Liberation Serif', serif" font-size="15.8" fill="#000" text-anchor="start" font-weight="normal" stroke="#000" stroke-width="0.25">F</text>
<text x="0" y="0" transform="translate(468.5,282.5) rotate(-90)" font-family="'Liberation Sans', sans-serif" font-size="6.1" fill="#4a4a4a" text-anchor="middle" textLength="93.7" lengthAdjust="spacingAndGlyphs">OR where the refvalue for Ln IBI is 3.833</text>
<text x="579" y="360.8" font-family="'Liberation Sans', sans-serif" font-size="5.5" fill="#2a2a2a" text-anchor="middle" font-weight="normal" textLength="13.3" lengthAdjust="spacingAndGlyphs">Ln IBI</text>
</svg>
</body></html>
